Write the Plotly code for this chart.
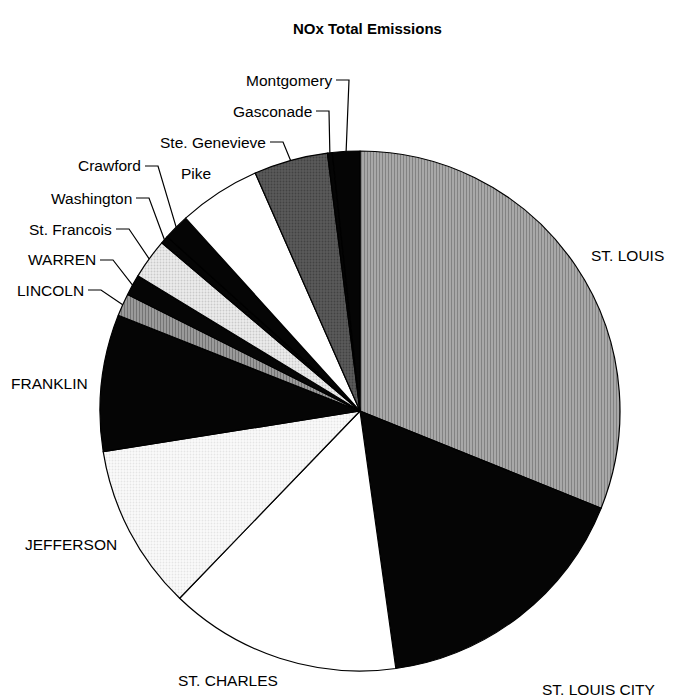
import math
import plotly.graph_objects as go

# ---- data ----
counties = ["ST. LOUIS", "ST. LOUIS CITY", "ST. CHARLES", "JEFFERSON", "FRANKLIN",
            "LINCOLN", "WARREN", "St. Francois", "Washington", "Crawford",
            "Pike", "Ste. Genevieve", "Gasconade", "Montgomery"]
share_pct = [31.1, 16.7, 14.4, 10.3, 8.5, 1.4, 1.3, 2.5, 0.5, 1.6, 5.1, 4.6, 0.3, 1.7]

# ---- styles ----
fill = ["#a8a8a8", "#050505", "#ffffff", "#fafafa", "#050505", "#9a9a9a", "#050505",
        "#ececec", "#050505", "#050505", "#ffffff", "#5a5a5a", "#050505", "#050505"]
pat_shape = ["|", "", "", ".", "", "|", "", ".", "", "", "", ".", "", ""]
pat_fg = ["#555555", "#000", "#000", "#cfcfcf", "#000", "#444444", "#000",
          "#a8a8a8", "#000", "#000", "#000", "#2a2a2a", "#000", "#000"]

W, H = 673, 698
CX, CY, R = 360, 411, 260

# label layout (pixel positions): (x, y, anchor, leader)
label_pos = {
    "ST. LOUIS": (627, 256, "center", False),
    "ST. LOUIS CITY": (598, 689, "center", False),
    "ST. CHARLES": (228, 680, "center", False),
    "JEFFERSON": (71, 544, "center", False),
    "FRANKLIN": (49, 383, "center", False),
    "LINCOLN": (86, 290, "right", True),
    "WARREN": (98, 260, "right", True),
    "St. Francois": (114, 229, "right", True),
    "Washington": (134, 198, "right", True),
    "Crawford": (143, 166, "right", True),
    "Pike": (196, 173, "center", False),
    "Ste. Genevieve": (268, 142, "right", True),
    "Gasconade": (314, 111, "right", True),
    "Montgomery": (334, 80, "right", True),
}

def px(x):
    return x / W

def py(y):
    return 1 - y / H

fig = go.Figure(go.Pie(
    labels=counties, values=share_pct, sort=False, direction="clockwise", rotation=0,
    textinfo="none", hoverinfo="label+percent", showlegend=False,
    marker=dict(colors=fill, line=dict(color="#000000", width=1.2),
                pattern=dict(shape=pat_shape, fgcolor=pat_fg, size=3, solidity=0.3,
                             fillmode="overlay")),
    domain=dict(x=[px(CX - R), px(CX + R)], y=[py(CY + R), py(CY - R)]),
))

font = dict(family="Liberation Sans, Arial, sans-serif", size=15.5, color="#000")
annotations = []
shapes = []
total = sum(share_pct)
cum = 0.0
for name, v in zip(counties, share_pct):
    mid = (cum + v / 2) / total * 2 * math.pi
    cum += v
    x, y, anchor, leader = label_pos[name]
    annotations.append(dict(text=name, x=px(x), y=py(y), xref="paper", yref="paper",
                            xanchor=anchor, yanchor="middle", showarrow=False, font=font))
    if leader:
        ex = CX + R * math.sin(mid)
        ey = CY - R * math.cos(mid)
        elbow_x = x + 15
        path = f"M {px(x + 2)} {py(y)} L {px(elbow_x)} {py(y)} L {px(ex)} {py(ey)}"
        shapes.append(dict(type="path", xref="paper", yref="paper", path=path,
                           line=dict(color="#000", width=1.2)))

annotations.append(dict(text="<b>NOx Total Emissions</b>", x=px(368), y=py(28),
                        xref="paper", yref="paper", xanchor="center", yanchor="middle",
                        showarrow=False,
                        font=dict(family="Liberation Sans, Arial, sans-serif", size=15,
                                  color="#000")))

fig.update_layout(width=W, height=H, margin=dict(l=0, r=0, t=0, b=0),
                  paper_bgcolor="#ffffff", plot_bgcolor="#ffffff",
                  annotations=annotations, shapes=shapes)

fig.write_html("out.html", config={"displayModeBar": False},
               post_script="document.body.style.margin='0';document.body.style.overflow='hidden';")
